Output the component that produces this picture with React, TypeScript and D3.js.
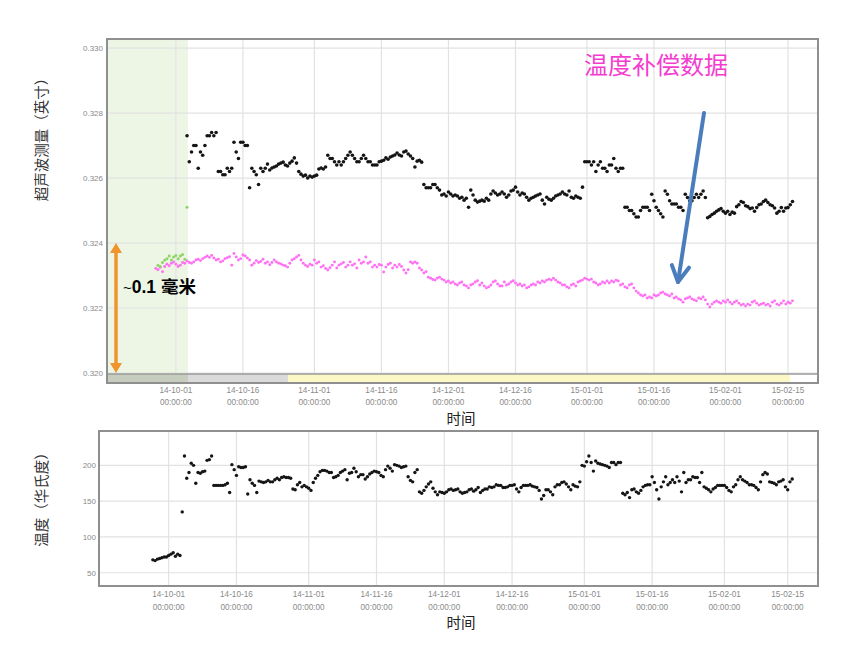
import React from "react";
import * as d3 from "d3";

// ---------- data ----------
const REFERENCE_DATE = "2014-10-01";
const SAMPLE_STEP_DAYS = 0.5;

// ultrasonic thickness, raw (inch)
const measuredStartDay = 2.5;
const measured = [
  0.3273, 0.3265, 0.3268, 0.3270, 0.3270, 0.3263, 0.3268, 0.3267, 0.3270, 0.3273, 0.3273, 0.3274,
  0.3273, 0.3274, 0.3262, 0.3262, 0.3261, 0.3261, 0.3263, 0.3262, 0.3263, 0.3271, 0.3268, 0.3266,
  0.3271, 0.3271, 0.3270, 0.3270, 0.3257, 0.3263, 0.3262, 0.3261, 0.3258, 0.3263, 0.3262, 0.3263,
  0.32643, 0.32625, 0.32631, 0.32634, 0.32637, 0.32643, 0.32646, 0.32649, 0.32640, 0.32637, 0.32646, 0.32652, 0.32662, 0.32646,
  0.32620, 0.32612, 0.32606, 0.32609, 0.32600, 0.32606, 0.32603, 0.32606, 0.32609,
  0.32628, 0.32631, 0.32628, 0.32634,
  0.3267, 0.3266, 0.3266, 0.3265, 0.3264, 0.3265, 0.3264, 0.3265, 0.3266, 0.3267, 0.3268,
  0.3267, 0.3266, 0.3265, 0.3265, 0.3266, 0.3267, 0.3266, 0.3265, 0.3265, 0.3264, 0.3264, 0.3264, 0.3265,
  0.32652, 0.32655, 0.32662, 0.32658, 0.32665, 0.32668, 0.32671, 0.32677, 0.32671, 0.32668, 0.32680, 0.32683, 0.32674,
  0.32668, 0.32660, 0.32634, 0.32652, 0.32655, 0.32649,
  0.3258, 0.3257, 0.3257, 0.3257, 0.3258, 0.3258, 0.3257,
  0.32563, 0.32548, 0.32551, 0.32545, 0.32557, 0.32551, 0.32545, 0.32548, 0.32545, 0.32538, 0.32541, 0.32532, 0.32538, 0.32510,
  0.32563, 0.32548, 0.32532, 0.32526, 0.32529, 0.32532, 0.32529, 0.32538, 0.32532,
  0.32551, 0.32560, 0.32554, 0.32548, 0.32551, 0.32557, 0.32551, 0.32541, 0.32548, 0.32560, 0.32563, 0.32572, 0.32557, 0.32548,
  0.32554, 0.32551, 0.32541, 0.32532, 0.32538, 0.32541, 0.32545, 0.32548, 0.32551, 0.32532, 0.32520, 0.32541, 0.32535, 0.32532,
  0.32538, 0.32545, 0.32548, 0.32551, 0.32557, 0.32551, 0.32548, 0.32560, 0.32541, 0.32538, 0.32545, 0.32541, 0.32538, 0.32572,
  0.3265, 0.3265, 0.3265, 0.3264, 0.3265, 0.3262, 0.3264, 0.3265, 0.3263, 0.3263, 0.3262, 0.3264, 0.3264, 0.3266,
  0.3263, 0.3262, 0.3263, 0.3263,
  0.3251, 0.3251, 0.3250, 0.3250, 0.3249, 0.3248, 0.3248, 0.3250, 0.3251, 0.3251, 0.3251, 0.3250, 0.3255, 0.3253,
  0.3251, 0.3250, 0.3249, 0.3248, 0.3256, 0.3255, 0.3253, 0.3252, 0.3252, 0.3252, 0.3251, 0.3251, 0.3250, 0.3255,
  0.3254, 0.3253, 0.3253, 0.3254, 0.3255, 0.3254, 0.3255, 0.3256, 0.3254,
  0.32478, 0.32482, 0.32488, 0.32492, 0.32498, 0.32502, 0.32506, 0.32498, 0.32492, 0.32498, 0.32488, 0.32495, 0.32492, 0.32512,
  0.32518, 0.32528, 0.32525, 0.32515, 0.32512, 0.32506, 0.32508, 0.32498, 0.32509, 0.32518, 0.32520, 0.32528, 0.32532, 0.32525,
  0.32518, 0.32515, 0.32508, 0.32492, 0.32498, 0.32509, 0.32498, 0.32508, 0.32509, 0.32518, 0.32528,
];

// temperature-compensated thickness (inch)
const compensatedStartDay = -4.5;
const compensated = [
  0.32322, 0.32318, 0.32325, 0.32312, 0.32328, 0.32335, 0.32330, 0.32338, 0.32342, 0.32335, 0.32328, 0.32332, 0.32340, 0.32338, 0.32345,
  0.32340, 0.32338, 0.32342, 0.32348, 0.32350, 0.32346, 0.32352, 0.32356, 0.32360, 0.32356, 0.32362, 0.32354, 0.32348, 0.32350,
  0.32342, 0.32345, 0.32352, 0.32355, 0.32358, 0.32332, 0.32368, 0.32357, 0.32348, 0.32352, 0.32363, 0.32360, 0.32354, 0.32348,
  0.32332, 0.32338, 0.32346, 0.32340, 0.32343, 0.32350, 0.32338, 0.32342, 0.32333, 0.32340, 0.32348, 0.32342, 0.32338, 0.32336,
  0.32332, 0.32330, 0.32326, 0.32338, 0.32348, 0.32352, 0.32357, 0.32362, 0.32348, 0.32338, 0.32332, 0.32328, 0.32335, 0.32332,
  0.32348, 0.32338, 0.32342, 0.32326, 0.32330, 0.32322, 0.32317, 0.32324, 0.32332, 0.32342, 0.32323, 0.32332, 0.32336, 0.32340,
  0.32326, 0.32332, 0.32342, 0.32332, 0.32336, 0.32323, 0.32348, 0.32338, 0.32342, 0.32357, 0.32338, 0.32342, 0.32326, 0.32332,
  0.32326, 0.32334, 0.32332, 0.32311, 0.32326, 0.32334, 0.32338, 0.32323, 0.32332, 0.32326, 0.32334, 0.32328, 0.32317, 0.32308,
  0.32318, 0.32342, 0.32338, 0.32342, 0.32338, 0.32323, 0.32317, 0.32308, 0.32312, 0.32295, 0.32292, 0.32288, 0.32286, 0.32292,
  0.32295, 0.32289, 0.32286, 0.32280, 0.32283, 0.32277, 0.32280, 0.32274, 0.32271, 0.32277, 0.32280, 0.32271, 0.32268, 0.32262,
  0.32271, 0.32274, 0.32280, 0.32284, 0.32271, 0.32277, 0.32268, 0.32262, 0.32265, 0.32271, 0.32280, 0.32283, 0.32274, 0.32268,
  0.32268, 0.32280, 0.32271, 0.32274, 0.32280, 0.32284, 0.32277, 0.32271, 0.32274, 0.32268, 0.32271, 0.32262, 0.32265, 0.32271,
  0.32274, 0.32271, 0.32280, 0.32277, 0.32283, 0.32280, 0.32286, 0.32289, 0.32286, 0.32292, 0.32286, 0.32280, 0.32277, 0.32271,
  0.32271, 0.32265, 0.32262, 0.32271, 0.32274, 0.32268, 0.32280, 0.32283, 0.32286, 0.32292, 0.32289, 0.32286, 0.32289, 0.32280,
  0.32277, 0.32271, 0.32274, 0.32280, 0.32277, 0.32283, 0.32277, 0.32283, 0.32280, 0.32286, 0.32283, 0.32271, 0.32274, 0.32265,
  0.32262, 0.32271, 0.32274, 0.32262, 0.32252, 0.32246, 0.32240, 0.32237, 0.32240, 0.32231, 0.32234, 0.32231, 0.32240, 0.32237,
  0.32240, 0.32246, 0.32249, 0.32243, 0.32240, 0.32237, 0.32243, 0.32231, 0.32234, 0.32228, 0.32225, 0.32218, 0.32228, 0.32231,
  0.32234, 0.32228, 0.32225, 0.32222, 0.32231, 0.32228, 0.32234, 0.32225, 0.32212, 0.32203, 0.32212, 0.32218, 0.32222, 0.32218,
  0.32215, 0.32222, 0.32218, 0.32225, 0.32218, 0.32212, 0.32218, 0.32222, 0.32215, 0.32209, 0.32212, 0.32206, 0.32212, 0.32209,
  0.32218, 0.32222, 0.32215, 0.32209, 0.32212, 0.32215, 0.32209, 0.32212, 0.32206, 0.32218, 0.32222, 0.32212, 0.32209, 0.32215,
  0.32222, 0.32212, 0.32218, 0.32215, 0.32222,
];

// readings taken before heating (green)
const preHeatStartDay = -4;
const preHeat = [
  0.32332, 0.32328, 0.32340, 0.32348, 0.32352, 0.32360, 0.32348, 0.32357, 0.32362, 0.32352, 0.32360, 0.32365, 0.32350, 0.32510,
];

// temperature (°F)
const temperatureStartDay = -3.5;
const temperature = [
  68, 67, 69, 70, 71, 72, 72, 74, 76, 78, 73, 76, 74,
  135, 213, 182, 190, 203, 200, 175, 190, 189, 191, 192, 207, 208, 213,
  172, 172, 172, 172, 172, 173, 175, 162, 201, 194, 186, 198, 197, 197,
  198, 160, 180, 175, 172, 162, 178, 177, 176, 177, 179, 177, 177, 180,
  182, 180, 183, 184, 183, 183, 182, 167, 166, 173, 176, 170, 172, 170,
  168, 165, 176, 182, 186, 191, 193, 193, 192, 190, 190, 183, 184, 186,
  190, 192, 194, 180, 189, 190, 196, 191, 184, 187, 187, 181, 184, 188,
  190, 192, 191, 190, 186, 184, 194, 199, 196, 192, 201, 200, 199, 197,
  198, 199, 184, 179, 177, 190, 194, 163, 161, 165, 170, 174, 177, 168,
  163, 159, 163, 162, 161, 163, 166, 167, 165, 166, 167, 163, 161, 162,
  163, 166, 167, 164, 166, 169, 162, 165, 167, 167, 170, 169, 170, 173,
  172, 172, 169, 169, 170, 172, 172, 173, 167, 163, 169, 172, 172, 172,
  173, 171, 170, 169, 165, 153, 158, 166, 166, 163, 159, 170, 173, 173,
  176, 177, 174, 170, 166, 173, 171, 170, 177, 200, 199, 205, 213, 204,
  192, 206, 203, 202, 201, 200, 199, 197, 204, 204, 201, 204, 204, 161,
  159, 162, 155, 166, 167, 163, 161, 165, 170, 172, 173, 173, 184, 176,
  166, 153, 170, 177, 184, 173, 176, 180, 176, 184, 178, 163, 190, 176,
  180, 180, 184, 183, 183, 176, 190, 170, 168, 166, 163, 167, 169, 172,
  172, 172, 172, 169, 165, 163, 170, 173, 180, 184, 180, 178, 176, 173,
  173, 172, 169, 166, 177, 187, 190, 188, 177, 176, 175, 173, 177, 178,
  180, 170, 166, 177, 181,
];

const xDomain = ["2014-09-15T14:00", "2015-02-21T17:00"];
const xTickDates = [
  "2014-10-01", "2014-10-16", "2014-11-01", "2014-11-16", "2014-12-01",
  "2014-12-16", "2015-01-01", "2015-01-16", "2015-02-01", "2015-02-15",
];
const xTickLabels = [
  "14-10-01", "14-10-16", "14-11-01", "14-11-16", "14-12-01",
  "14-12-16", "15-01-01", "15-01-16", "15-02-01", "15-02-15",
];
const xTickTimeLabel = "00:00:00";
const topYTicks = [0.32, 0.322, 0.324, 0.326, 0.328, 0.33];
const topYDomain = [0.32, 0.33028];
const bottomYTicks = [50, 100, 150, 200];
const bottomYDomain = [31.5, 248];

const heatingBand = ["2014-09-15T14:00", "2014-10-03T16:30"];
const navigatorGrey = ["2014-09-15T14:00", "2014-10-26T02:00"];
const navigatorYellow = ["2014-10-26T02:00", "2015-02-15T11:00"];

const titleTop = "超声波测量（英寸）";
const titleBottom = "温度（华氏度）";
const xTitle = "时间";
const compLabel = "温度补偿数据";
const spanLabelTilde = "~";
const spanLabel = "0.1 毫米";
const spanValues = [0.324, 0.32];

// ---------- helpers ----------
const parseDT = d3.timeParse("%Y-%m-%dT%H:%M");
const parseD = d3.timeParse("%Y-%m-%d");
const refDate = parseD(REFERENCE_DATE) as Date;
const dayToDate = (day: number) => new Date(refDate.getTime() + day * 864e5);
const toPoints = (start: number, values: number[]) =>
  values.map((v, i) => ({ date: dayToDate(start + i * SAMPLE_STEP_DAYS), v }));

const CJK = "'Noto Sans CJK SC', 'Noto Sans', sans-serif";
const TICKFONT = "'Liberation Sans', Arial, sans-serif";

export default function App() {
  const dom = xDomain.map((s) => parseDT(s) as Date);

  // top panel
  const T = { left: 107, right: 818, top: 39, plotBottom: 373, stripTop: 374, bottom: 383 };
  const xT = d3.scaleTime().domain(dom).range([T.left, T.right]);
  const yT = d3.scaleLinear().domain(topYDomain).range([T.plotBottom, T.top]);

  // bottom panel
  const B = { left: 99, right: 818, top: 431, bottom: 586 };
  const xB = d3.scaleTime().domain(dom).range([B.left, B.right]);
  const yB = d3.scaleLinear().domain(bottomYDomain).range([B.bottom, B.top]);

  const tickDates = xTickDates.map((s) => parseD(s) as Date);

  const measPts = toPoints(measuredStartDay, measured);
  const compPts = toPoints(compensatedStartDay, compensated);
  const prePts = toPoints(preHeatStartDay, preHeat);
  const tempPts = toPoints(temperatureStartDay, temperature);

  const band = heatingBand.map((s) => parseDT(s) as Date);
  const navG = navigatorGrey.map((s) => parseDT(s) as Date);
  const navY = navigatorYellow.map((s) => parseDT(s) as Date);

  // annotation geometry
  const ax = 116;
  const aTop = yT(spanValues[0]);
  const aBot = yT(spanValues[1]);
  const orange = "#f0942c";

  const bx0 = 704, by0 = 113, bx1 = 678, by1 = 282;
  const ang = Math.atan2(by1 - by0, bx1 - bx0);
  const armLen = 18;
  const arm = (da: number) => [
    bx1 - armLen * Math.cos(ang + da),
    by1 - armLen * Math.sin(ang + da),
  ];
  const a1 = arm(0.5);
  const a2 = arm(-0.5);
  const blue = "#4a7dbc";

  const gridColor = "#e2e2e2";
  const frameColor = "#8f8f8f";
  const tickColor = "#8a8a8a";

  return (
    <svg
      width={855}
      height={646}
      style={{ position: "absolute", left: 0, top: 0, background: "#fff" }}
    >
      <defs>
        <clipPath id="clipTop">
          <rect x={T.left} y={T.top} width={T.right - T.left} height={T.plotBottom - T.top} />
        </clipPath>
        <clipPath id="clipBot">
          <rect x={B.left} y={B.top} width={B.right - B.left} height={B.bottom - B.top} />
        </clipPath>
      </defs>

      {/* ================= TOP PANEL ================= */}
      <rect
        x={xT(band[0])}
        y={T.top}
        width={xT(band[1]) - xT(band[0])}
        height={T.bottom - T.top}
        fill="#edf6e5"
      />
      {topYTicks.map((t) => (
        <line key={"tg" + t} x1={T.left} x2={T.right} y1={yT(t)} y2={yT(t)} stroke={gridColor} strokeWidth={1.2} />
      ))}
      {tickDates.map((d, i) => (
        <line key={"tv" + i} x1={xT(d)} x2={xT(d)} y1={T.top} y2={T.stripTop} stroke={gridColor} strokeWidth={1.2} />
      ))}
      <g clipPath="url(#clipTop)">
        {compPts.map((p, i) => (
          <circle key={"c" + i} cx={xT(p.date)} cy={yT(p.v)} r={1.45} fill="#ff70f2" />
        ))}
        {prePts.map((p, i) => (
          <circle key={"g" + i} cx={xT(p.date)} cy={yT(p.v)} r={1.5} fill="#8fd466" />
        ))}
        {measPts.map((p, i) => (
          <circle key={"m" + i} cx={xT(p.date)} cy={yT(p.v)} r={1.8} fill="#151515" />
        ))}
      </g>
      {/* navigator strip */}
      <rect x={T.left} y={T.stripTop} width={T.right - T.left} height={T.bottom - T.stripTop} fill="#ffffff" />
      <rect
        x={xT(navG[0])}
        y={T.stripTop}
        width={xT(navG[1]) - xT(navG[0])}
        height={T.bottom - T.stripTop}
        fill="#dadada"
      />
      <rect
        x={xT(band[0])}
        y={T.stripTop}
        width={xT(band[1]) - xT(band[0])}
        height={T.bottom - T.stripTop}
        fill="#c6cdbf"
      />
      <rect
        x={xT(navY[0])}
        y={T.stripTop}
        width={xT(navY[1]) - xT(navY[0])}
        height={T.bottom - T.stripTop}
        fill="#fbf8c6"
      />
      <line x1={T.left} x2={T.right} y1={T.stripTop} y2={T.stripTop} stroke="#9a9a9a" strokeWidth={1.5} />
      <rect
        x={T.left}
        y={T.top}
        width={T.right - T.left}
        height={T.bottom - T.top}
        fill="none"
        stroke={frameColor}
        strokeWidth={2}
      />
      {topYTicks.map((t) => (
        <text
          key={"tyl" + t}
          x={103}
          y={yT(t) + 3}
          textAnchor="end"
          fontFamily={TICKFONT}
          fontSize={8}
          fill={tickColor}
        >
          {d3.format(".3f")(t)}
        </text>
      ))}
      {tickDates.map((d, i) => (
        <g key={"txl" + i} fontFamily={TICKFONT} fontSize={8.2} fill={tickColor} textAnchor="middle">
          <text x={xT(d)} y={393}>{xTickLabels[i]}</text>
          <text x={xT(d)} y={405}>{xTickTimeLabel}</text>
        </g>
      ))}
      <text x={461} y={424} textAnchor="middle" fontFamily={CJK} fontSize={14.5} fill="#222">
        {xTitle}
      </text>
      <text
        transform="translate(47,136) rotate(-90)"
        textAnchor="middle"
        fontFamily={CJK}
        fontSize={14.5}
        fill="#333"
      >
        {titleTop}
      </text>

      {/* ================= BOTTOM PANEL ================= */}
      {bottomYTicks.map((t) => (
        <line key={"bg" + t} x1={B.left} x2={B.right} y1={yB(t)} y2={yB(t)} stroke={gridColor} strokeWidth={1.2} />
      ))}
      {tickDates.map((d, i) => (
        <line key={"bv" + i} x1={xB(d)} x2={xB(d)} y1={B.top} y2={B.bottom} stroke={gridColor} strokeWidth={1.2} />
      ))}
      <g clipPath="url(#clipBot)">
        {tempPts.map((p, i) => (
          <circle key={"t" + i} cx={xB(p.date)} cy={yB(p.v)} r={1.7} fill="#151515" />
        ))}
      </g>
      <rect
        x={B.left}
        y={B.top}
        width={B.right - B.left}
        height={B.bottom - B.top}
        fill="none"
        stroke={frameColor}
        strokeWidth={2}
      />
      {bottomYTicks.map((t) => (
        <text
          key={"byl" + t}
          x={96}
          y={yB(t) + 3}
          textAnchor="end"
          fontFamily={TICKFONT}
          fontSize={8}
          fill={tickColor}
        >
          {t}
        </text>
      ))}
      {tickDates.map((d, i) => (
        <g key={"bxl" + i} fontFamily={TICKFONT} fontSize={8.2} fill={tickColor} textAnchor="middle">
          <text x={xB(d)} y={597}>{xTickLabels[i]}</text>
          <text x={xB(d)} y={610}>{xTickTimeLabel}</text>
        </g>
      ))}
      <text x={461} y={628} textAnchor="middle" fontFamily={CJK} fontSize={14.5} fill="#222">
        {xTitle}
      </text>
      <text
        transform="translate(47,496) rotate(-90)"
        textAnchor="middle"
        fontFamily={CJK}
        fontSize={14.5}
        fill="#333"
      >
        {titleBottom}
      </text>

      {/* ================= ANNOTATIONS ================= */}
      <line x1={ax} x2={ax} y1={aTop + 8} y2={aBot - 8} stroke={orange} strokeWidth={3.5} />
      <path d={`M${ax},${aTop} L${ax - 6},${aTop + 10} L${ax + 6},${aTop + 10} Z`} fill={orange} />
      <path d={`M${ax},${aBot} L${ax - 6},${aBot - 10} L${ax + 6},${aBot - 10} Z`} fill={orange} />
      <text x={123} y={293} fontFamily={TICKFONT} fill="#000">
        <tspan fontSize={15}>{spanLabelTilde}</tspan>
        <tspan fontSize={17.5} fontWeight="bold" fontFamily={"'Liberation Sans', 'Noto Sans CJK SC', sans-serif"}>
          {spanLabel}
        </tspan>
      </text>

      <text x={584} y={74} fontFamily={CJK} fontSize={24} fill="#f43dcf">
        {compLabel}
      </text>

      <line x1={bx0} y1={by0} x2={bx1} y2={by1} stroke={blue} strokeWidth={4} strokeLinecap="round" />
      <path
        d={`M${a1[0]},${a1[1]} L${bx1},${by1} L${a2[0]},${a2[1]}`}
        fill="none"
        stroke={blue}
        strokeWidth={4}
        strokeLinecap="round"
        strokeLinejoin="round"
      />
    </svg>
  );
}
